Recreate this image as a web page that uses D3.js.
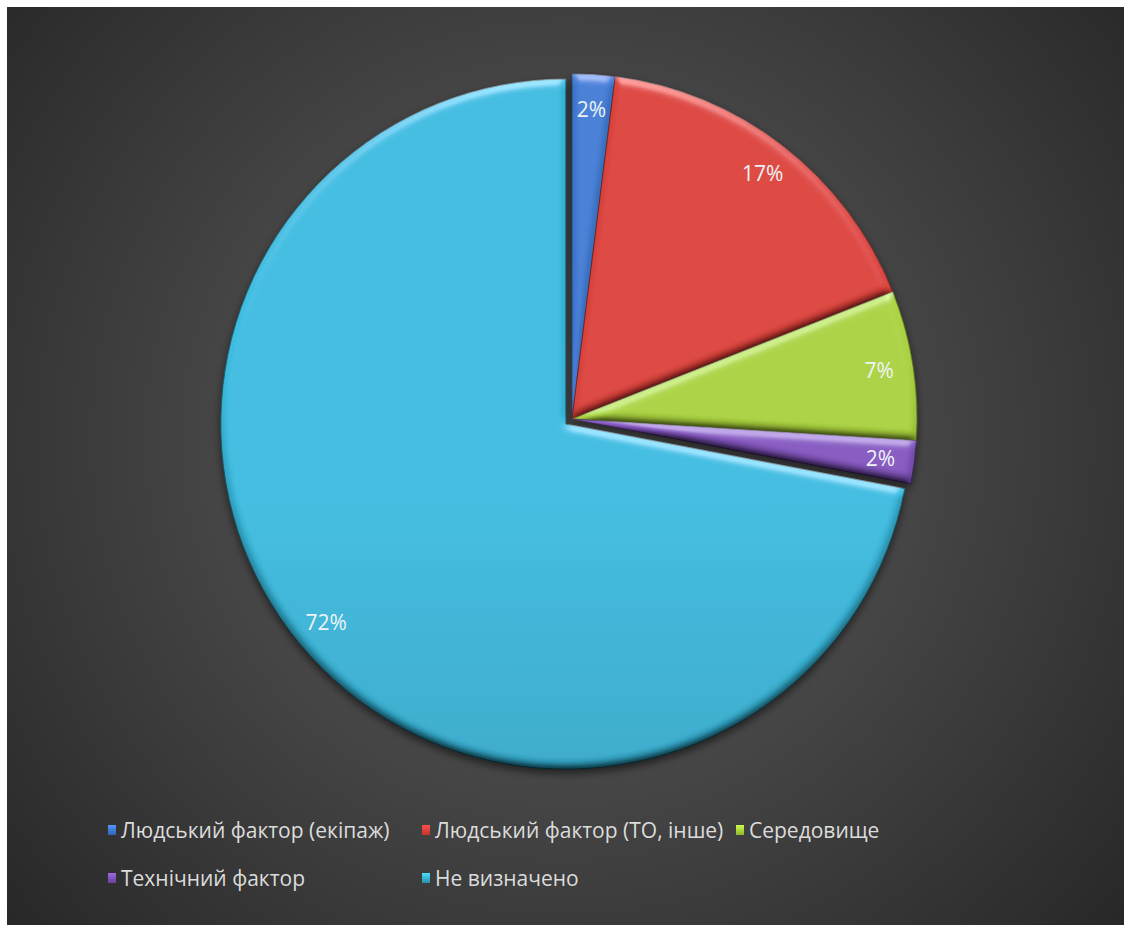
<!DOCTYPE html>
<html>
<head>
<meta charset="utf-8">
<script src="https://cdn.jsdelivr.net/npm/d3@7"></script>
<style>
  html, body { margin: 0; padding: 0; background: #ffffff; }
  svg { display: block; }
</style>
</head>
<body>
<svg id="chart" width="1124" height="925"></svg>
<script>
// Причини подій: частки за категоріями
const categories = [
  "Людський фактор (екіпаж)",
  "Людський фактор (ТО, інше)",
  "Середовище",
  "Технічний фактор",
  "Не визначено"
];
const shares = [2, 17, 7, 2, 72];
const shareLabels = ["2%", "17%", "7%", "2%", "72%"];

// Slice palette: [top shade, bottom shade]
const palette = [
  ["#437ed6", "#2f62b8"],
  ["#dc433c", "#c2342e"],
  ["#aad23f", "#8fb72c"],
  ["#8557c0", "#67409e"],
  ["#3bbce0", "#2a8ea9"]
];

const W = 1124, H = 925;
const cx = 572, cy = 419, R = 345;
const labelR = 311;
const explode = [0, 0, 0, 0, 8];

const svg = d3.select("#chart");
const defs = svg.append("defs");

// Chart area background
const bg = defs.append("radialGradient")
  .attr("id", "bgGrad")
  .attr("gradientUnits", "userSpaceOnUse")
  .attr("cx", 565).attr("cy", 440).attr("r", 760);
bg.append("stop").attr("offset", "0%").attr("stop-color", "#505050");
bg.append("stop").attr("offset", "45%").attr("stop-color", "#464646");
bg.append("stop").attr("offset", "100%").attr("stop-color", "#262626");

svg.append("rect")
  .attr("x", 7).attr("y", 7)
  .attr("width", W - 7).attr("height", H - 7)
  .attr("fill", "url(#bgGrad)");

// Vertical shading per slice colour
palette.forEach((c, i) => {
  const g = defs.append("linearGradient")
    .attr("id", "slice" + i)
    .attr("gradientUnits", "userSpaceOnUse")
    .attr("x1", 0).attr("y1", cy - R)
    .attr("x2", 0).attr("y2", cy + R);
  g.append("stop").attr("offset", "0%").attr("stop-color", c[0]);
  g.append("stop").attr("offset", "100%").attr("stop-color", c[1]);
});

// Bevel: diffuse shading darkens edges facing away, specular lights edges facing up
const bevel = defs.append("filter")
  .attr("id", "bevel")
  .attr("x", "-5%").attr("y", "-5%")
  .attr("width", "110%").attr("height", "110%");
bevel.append("feGaussianBlur")
  .attr("in", "SourceAlpha").attr("stdDeviation", 5).attr("result", "blur");
const diff = bevel.append("feDiffuseLighting")
  .attr("in", "blur").attr("surfaceScale", 4)
  .attr("diffuseConstant", 1.62).attr("lighting-color", "#ffffff")
  .attr("result", "diff");
diff.append("feDistantLight").attr("azimuth", 270).attr("elevation", 38);
const spec = bevel.append("feSpecularLighting")
  .attr("in", "blur").attr("surfaceScale", 4)
  .attr("specularConstant", 0.6).attr("specularExponent", 22)
  .attr("lighting-color", "#ffffff").attr("result", "spec");
spec.append("feDistantLight").attr("azimuth", 270).attr("elevation", 32);
bevel.append("feComposite")
  .attr("in", "SourceGraphic").attr("in2", "diff")
  .attr("operator", "arithmetic")
  .attr("k1", 1).attr("k2", 0).attr("k3", 0).attr("k4", 0)
  .attr("result", "shaded");
bevel.append("feComposite")
  .attr("in", "spec").attr("in2", "SourceAlpha")
  .attr("operator", "in").attr("result", "specIn");
bevel.append("feComposite")
  .attr("in", "shaded").attr("in2", "specIn")
  .attr("operator", "arithmetic")
  .attr("k1", 0).attr("k2", 1).attr("k3", 0.5).attr("k4", 0);

// Soft shadow under the pie
const shadow = defs.append("filter")
  .attr("id", "shadow")
  .attr("x", "-10%").attr("y", "-10%")
  .attr("width", "120%").attr("height", "120%");
shadow.append("feDropShadow")
  .attr("dx", 0).attr("dy", 4).attr("stdDeviation", 4)
  .attr("flood-color", "#000000").attr("flood-opacity", 0.55);

const pie = d3.pie().sort(null).value(d => d)(shares);
const arc = d3.arc().innerRadius(0).outerRadius(R);
const labelArc = d3.arc().innerRadius(labelR).outerRadius(labelR);

function offset(d, i) {
  const a = (d.startAngle + d.endAngle) / 2;
  return [Math.sin(a) * explode[i], -Math.cos(a) * explode[i]];
}

const pieG = svg.append("g")
  .attr("transform", `translate(${cx},${cy})`)
  .attr("filter", "url(#shadow)");

pieG.selectAll("path.slice")
  .data(pie)
  .join("path")
  .attr("class", "slice")
  .attr("d", arc)
  .attr("transform", (d, i) => `translate(${offset(d, i)})`)
  .attr("fill", (d, i) => `url(#slice${i})`)
  .attr("stroke", (d, i) => d3.color(palette[i][1]).darker(1.3))
  .attr("stroke-width", 1)
  .attr("stroke-opacity", 0.75)
  .attr("filter", "url(#bevel)");

// Value labels
svg.append("g")
  .attr("transform", `translate(${cx},${cy})`)
  .selectAll("text")
  .data(pie)
  .join("text")
  .attr("transform", (d, i) => {
    const [x, y] = labelArc.centroid(d);
    const [ox, oy] = offset(d, i);
    return `translate(${x + ox},${y + oy})`;
  })
  .attr("text-anchor", "middle")
  .attr("dominant-baseline", "central")
  .attr("font-family", "'Open Sans', sans-serif")
  .attr("font-size", 21)
  .attr("fill", "#eef3f7")
  .text((d, i) => shareLabels[i]);

// Legend
const legendCols = 3, colW = 314, rowH = 48;
const legendX = 108, legendY = 830;

const legend = svg.append("g")
  .selectAll("g")
  .data(categories)
  .join("g")
  .attr("transform", (d, i) =>
    `translate(${legendX + (i % legendCols) * colW},${legendY + Math.floor(i / legendCols) * rowH})`);

palette.forEach((c, i) => {
  const g = defs.append("linearGradient")
    .attr("id", "key" + i)
    .attr("x1", 0).attr("y1", 0).attr("x2", 0).attr("y2", 1);
  g.append("stop").attr("offset", "0%").attr("stop-color", d3.color(c[0]).brighter(0.5));
  g.append("stop").attr("offset", "100%").attr("stop-color", c[1]);
});

legend.append("rect")
  .attr("x", 0).attr("y", -5)
  .attr("width", 8).attr("height", 10)
  .attr("fill", (d, i) => `url(#key${i})`);

legend.append("text")
  .attr("x", 13).attr("y", 0)
  .attr("dominant-baseline", "central")
  .attr("font-family", "'Open Sans', sans-serif")
  .attr("font-size", 21)
  .attr("fill", "#dcdcdc")
  .text(d => d);
</script>
</body>
</html>
